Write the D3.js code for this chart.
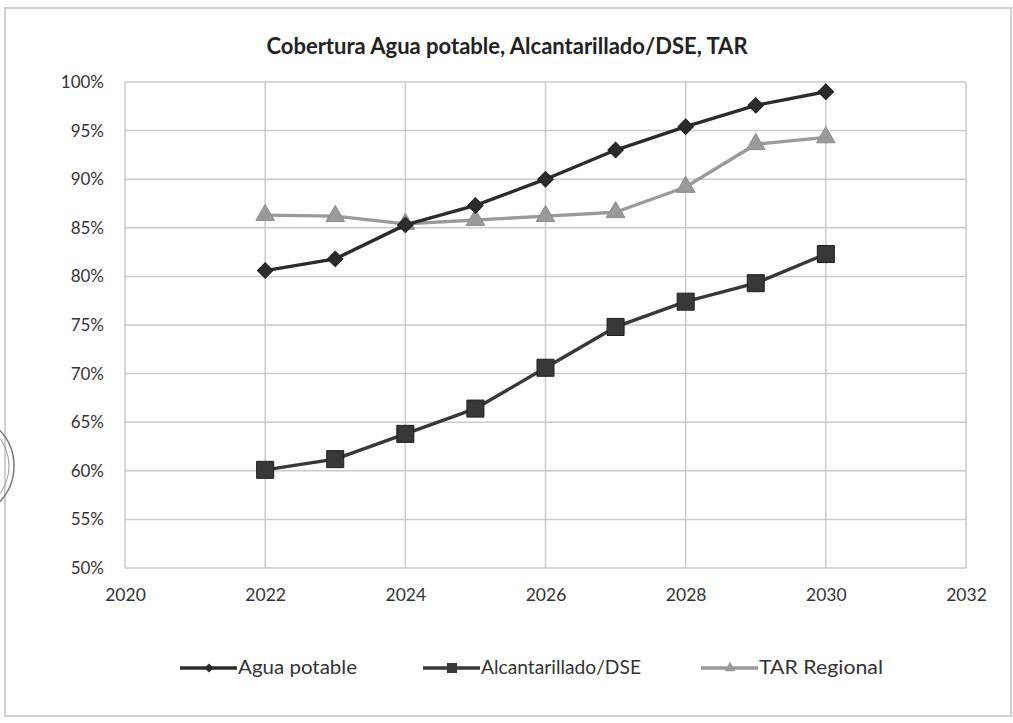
<!DOCTYPE html>
<html><head><meta charset="utf-8">
<script src="https://cdn.jsdelivr.net/npm/d3@7"></script>
<style>body{margin:0;background:#fff;} svg{display:block;}</style>
</head><body>
<svg id="c" width="1013" height="723"></svg>
<script>
const years = [2022, 2023, 2024, 2025, 2026, 2027, 2028, 2029, 2030];
const aguaPotable = [80.6, 81.8, 85.3, 87.3, 90.0, 93.0, 95.4, 97.6, 99.0];
const alcantarillado = [60.1, 61.2, 63.8, 66.4, 70.6, 74.8, 77.4, 79.3, 82.3];
const tarRegional = [86.3, 86.2, 85.4, 85.8, 86.2, 86.6, 89.2, 93.6, 94.3];
const xTicks = [2020, 2022, 2024, 2026, 2028, 2030, 2032];
const yTicks = [50, 55, 60, 65, 70, 75, 80, 85, 90, 95, 100];
const seriesNames = ["Agua potable", "Alcantarillado/DSE", "TAR Regional"];

const svg = d3.select("#c");
const font = "Lato, 'Open Sans', sans-serif";
const L = 125, R = 966, T = 82, B = 568;
const x = d3.scaleLinear().domain([2020, 2032]).range([L, R]);
const y = d3.scaleLinear().domain([50, 100]).range([B, T]);

// scanned page border
svg.append("rect").attr("x", 5).attr("y", 8).attr("width", 1006).attr("height", 708)
  .attr("fill", "none").attr("stroke", "#d0d0d0").attr("stroke-width", 2);
// partial stamp on left edge
svg.append("circle").attr("cx", -38).attr("cy", 466).attr("r", 52)
  .attr("fill", "none").attr("stroke", "#777").attr("stroke-width", 1.5);
svg.append("circle").attr("cx", -38).attr("cy", 466).attr("r", 47)
  .attr("fill", "none").attr("stroke", "#999").attr("stroke-width", 1);

// title
svg.append("text").attr("x", 507).attr("y", 54).attr("text-anchor", "middle")
  .attr("font-family", font).attr("font-weight", "bold").attr("font-size", 22)
  .attr("fill", "#222").text("Cobertura Agua potable, Alcantarillado/DSE, TAR");

// gridlines
const grid = svg.append("g");
grid.selectAll("line.h").data(yTicks).join("line")
  .attr("x1", L).attr("x2", R).attr("y1", d => y(d)).attr("y2", d => y(d))
  .attr("stroke", "#cacaca").attr("stroke-width", 1.5);
grid.selectAll("line.v").data(xTicks).join("line")
  .attr("y1", T).attr("y2", B).attr("x1", d => x(d)).attr("x2", d => x(d))
  .attr("stroke", "#cacaca").attr("stroke-width", 1.5);

// axes (labels only)
const yAxis = svg.append("g").attr("transform", `translate(${L},0)`)
  .call(d3.axisLeft(y).tickValues(yTicks).tickSize(0).tickPadding(21).tickFormat(d => d + "%"));
const xAxis = svg.append("g").attr("transform", `translate(0,${B})`)
  .call(d3.axisBottom(x).tickValues(xTicks).tickSize(0).tickPadding(21).tickFormat(d3.format("d")));
[yAxis, xAxis].forEach(a => {
  a.select(".domain").remove();
  a.selectAll("text").attr("font-family", font).attr("fill", "#333");
});
yAxis.selectAll("text").attr("font-size", 17);
xAxis.selectAll("text").attr("font-size", 17.5);

const line = d3.line().x((d, i) => x(years[i])).y(d => y(d));
const series = [
  {name: seriesNames[0], data: aguaPotable, color: "#2b2b2b", sym: d3.symbolSquare, size: 120, rot: 45},
  {name: seriesNames[1], data: alcantarillado, color: "#383838", sym: d3.symbolSquare, size: 290, rot: 0},
  {name: seriesNames[2], data: tarRegional, color: "#9a9a9a", sym: d3.symbolTriangle, size: 150, rot: 0}
];
// draw order: TAR first, then Alc, then Agua on top
[series[2], series[1], series[0]].forEach(s => {
  svg.append("path").datum(s.data).attr("d", line).attr("fill", "none")
    .attr("stroke", s.color).attr("stroke-width", 3.4).attr("stroke-linejoin", "round");
  svg.append("g").selectAll("path").data(s.data).join("path")
    .attr("transform", (d, i) => `translate(${x(years[i])},${y(d)}) rotate(${s.rot})`)
    .attr("d", d3.symbol().type(s.sym).size(s.size))
    .attr("fill", s.color).attr("stroke", s.color === "#9a9a9a" ? "#8c8c8c" : "#1e1e1e").attr("stroke-width", 1);
});

// legend
const legendX = [180, 423, 701];
const legendW = [119, 160, 124];
const lg = svg.append("g");
series.forEach((s, i) => {
  const lx = legendX[i], ly = 668;
  lg.append("line").attr("x1", lx).attr("x2", lx + 57).attr("y1", ly).attr("y2", ly)
    .attr("stroke", s.color).attr("stroke-width", 3.4);
  lg.append("path").attr("transform", `translate(${lx + 29},${ly}) rotate(${s.rot})`)
    .attr("d", d3.symbol().type(s.sym).size(s.size * 0.35)).attr("fill", s.color);
  lg.append("text").attr("x", lx + 58).attr("y", ly + 6).attr("font-family", font)
    .attr("font-size", 19.5).attr("fill", "#333")
    .attr("textLength", legendW[i]).attr("lengthAdjust", "spacingAndGlyphs").text(s.name);
});
</script>
</body></html>
